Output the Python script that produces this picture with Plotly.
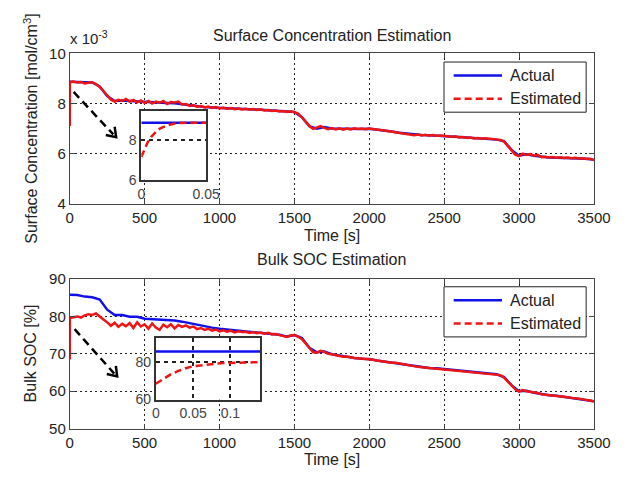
import math
import plotly.graph_objects as go

# ---------------- data ----------------
# time axes [s]
t_actual = list(range(0, 3501, 50))
t_est = [0, 0.5] + list(range(25, 3501, 25))

# surface concentration, units of 1e-3 mol/cm^3
conc_actual = [
    8.87, 8.86, 8.82, 8.84, 8.68, 8.30, 8.10, 8.12, 8.10, 8.08,
    8.05, 8.04, 8.04, 8.02, 8.01, 7.97, 7.92, 7.88, 7.86, 7.84,
    7.82, 7.81, 7.79, 7.78, 7.77, 7.76, 7.74, 7.72, 7.70, 7.67,
    7.66, 7.45, 7.10, 7.00, 7.06, 7.00, 6.99, 6.98, 6.98, 6.98,
    6.99, 6.96, 6.93, 6.88, 6.83, 6.79, 6.76, 6.74, 6.73, 6.72,
    6.70, 6.68, 6.66, 6.64, 6.62, 6.60, 6.58, 6.56, 6.50, 6.15,
    5.92, 5.98, 5.92, 5.87, 5.85, 5.84, 5.83, 5.82, 5.81, 5.80,
    5.76,
]
conc_est = [7.10, 8.85,
    8.88, 8.84, 8.86, 8.80, 8.83, 8.85, 8.78, 8.66, 8.50, 8.32,
    8.15, 8.08, 8.15, 8.10, 8.18, 8.08, 8.14, 8.05, 8.12, 8.02,
    8.10, 8.00, 8.08, 8.03, 8.10, 7.98, 8.06, 8.04, 8.08, 7.96,
    7.98, 7.90, 7.94, 7.87, 7.90, 7.84, 7.88, 7.82, 7.86, 7.80,
    7.83, 7.79, 7.82, 7.77, 7.80, 7.76, 7.79, 7.75, 7.78, 7.74,
    7.77, 7.72, 7.74, 7.70, 7.72, 7.68, 7.70, 7.66, 7.69, 7.65,
    7.60, 7.45, 7.28, 7.10, 6.99, 7.04, 7.10, 7.03, 6.98, 7.02,
    6.97, 7.01, 6.96, 7.00, 6.97, 7.01, 6.98, 7.00, 6.97, 7.00,
    6.97, 6.96, 6.94, 6.92, 6.90, 6.87, 6.85, 6.83, 6.80, 6.78,
    6.77, 6.74, 6.76, 6.73, 6.75, 6.72, 6.74, 6.71, 6.72, 6.70,
    6.71, 6.67, 6.69, 6.65, 6.66, 6.63, 6.64, 6.61, 6.62, 6.60,
    6.61, 6.59, 6.58, 6.57, 6.55, 6.48, 6.30, 6.14, 5.96, 5.90,
    6.00, 5.95, 5.98, 5.92, 5.95, 5.86, 5.88, 5.85, 5.87, 5.84,
    5.86, 5.83, 5.85, 5.82, 5.84, 5.81, 5.82, 5.79, 5.80, 5.74,
]

# bulk SOC [%]
soc_actual = [
    85.8, 85.7, 85.3, 85.1, 84.5, 81.8, 80.4, 80.4, 79.9, 79.9,
    79.4, 79.3, 79.2, 79.1, 78.9, 78.6, 78.2, 77.7, 77.3, 77.0,
    76.7, 76.5, 76.2, 76.0, 75.9, 75.8, 75.6, 75.3, 75.1, 74.6,
    75.0, 74.2, 71.6, 70.4, 70.6, 69.9, 69.5, 69.2, 68.9, 68.7,
    68.6, 68.2, 67.9, 67.7, 67.5, 67.0, 66.7, 66.4, 66.2, 66.1,
    65.9, 65.7, 65.5, 65.3, 65.1, 64.8, 64.6, 64.5, 63.8, 61.6,
    60.0, 60.1, 59.6, 59.2, 58.9, 58.8, 58.5, 58.3, 58.1, 57.7,
    57.3,
]
soc_est = [68.5, 79.6,
    79.8, 80.0, 79.7, 80.3, 80.6, 80.4, 80.8, 79.9, 79.2, 78.4,
    77.5, 78.3, 77.2, 78.0, 77.4, 78.2, 76.9, 78.4, 77.3, 77.9,
    76.7, 78.1, 77.0, 76.4, 77.8, 77.1, 77.9, 76.8, 77.7, 77.2,
    77.6, 77.0, 77.3, 76.6, 76.9, 76.4, 76.7, 76.2, 76.5, 76.0,
    76.3, 75.9, 76.2, 75.7, 76.0, 75.8, 75.9, 75.6, 75.8, 75.5,
    75.7, 75.4, 75.6, 75.2, 75.3, 75.0, 74.8, 74.5, 74.9, 75.0,
    74.6, 73.9, 72.8, 71.6, 70.4, 70.3, 70.8, 70.5, 70.0, 69.9,
    69.6, 69.5, 69.2, 69.3, 69.0, 68.9, 68.8, 68.7, 68.7, 68.5,
    68.4, 68.2, 68.0, 67.9, 67.8, 67.6, 67.6, 67.4, 67.2, 67.0,
    66.8, 66.7, 66.5, 66.4, 66.3, 66.2, 66.2, 66.0, 66.0, 65.9,
    65.8, 65.7, 65.6, 65.5, 65.4, 65.3, 65.2, 65.0, 64.9, 64.8,
    64.7, 64.6, 64.6, 64.4, 64.3, 63.6, 62.6, 61.5, 60.5, 59.9,
    60.3, 60.0, 59.9, 59.6, 59.5, 59.2, 59.1, 58.9, 58.9, 58.7,
    58.6, 58.5, 58.4, 58.2, 58.2, 58.0, 57.8, 57.7, 57.5, 57.2,
]

# zoomed insets (first instants)
inset_conc_t = [0, 0.0025, 0.005, 0.0075, 0.01, 0.0125, 0.015, 0.0175, 0.02, 0.025, 0.03, 0.04, 0.05]
inset_conc_est = [7.15, 7.55, 7.90, 8.15, 8.35, 8.50, 8.60, 8.68, 8.74, 8.82, 8.86, 8.87, 8.87]
inset_conc_act_t = [0, 0.05]
inset_conc_act = [8.87, 8.87]

inset_soc_t = [0, 0.01, 0.02, 0.03, 0.04, 0.05, 0.06, 0.07, 0.08, 0.09, 0.10, 0.11, 0.12, 0.13, 0.14]
inset_soc_est = [68.5, 71.0, 73.5, 75.3, 76.8, 77.8, 78.4, 78.9, 79.2, 79.5, 79.7, 79.8, 79.8, 79.9, 79.9]
inset_soc_act_t = [0, 0.14]
inset_soc_act = [85.7, 85.7]

x_ticks_main = list(range(0, 3501, 500))
conc_ticks = [4, 6, 8, 10]
soc_ticks = [50, 60, 70, 80, 90]
series_names = ["Actual", "Estimated"]

assert len(t_est) == len(conc_est) == len(soc_est)
assert len(t_actual) == len(conc_actual) == len(soc_actual)

# ---------------- layout helpers ----------------
W, H = 637, 478
def px(x):
    return x / W
def py(y):
    return 1 - y / H

FONT = "Liberation Sans, Arial, sans-serif"
BLUE = "#1010e8"
RED = "#ee1515"
TXT = "#222222"
DASH_RED = "7px,4px"

fig = go.Figure()

# main traces
fig.add_trace(go.Scatter(x=t_actual, y=conc_actual, mode="lines", name=series_names[0],
                         line=dict(color=BLUE, width=2.5), xaxis="x", yaxis="y"))
fig.add_trace(go.Scatter(x=t_est, y=conc_est, mode="lines", name=series_names[1],
                         line=dict(color=RED, width=2.5), xaxis="x", yaxis="y"))
fig.add_trace(go.Scatter(x=t_actual, y=soc_actual, mode="lines", name=series_names[0],
                         line=dict(color=BLUE, width=2.5), xaxis="x2", yaxis="y2"))
fig.add_trace(go.Scatter(x=t_est, y=soc_est, mode="lines", name=series_names[1],
                         line=dict(color=RED, width=2.5), xaxis="x2", yaxis="y2"))

# inset traces
fig.add_trace(go.Scatter(x=inset_conc_act_t, y=inset_conc_act, mode="lines", name=series_names[0],
                         line=dict(color=BLUE, width=2.5), xaxis="x5", yaxis="y5"))
fig.add_trace(go.Scatter(x=inset_conc_t, y=inset_conc_est, mode="lines", name=series_names[1],
                         line=dict(color=RED, width=2.5, dash=DASH_RED), xaxis="x5", yaxis="y5"))
fig.add_trace(go.Scatter(x=inset_soc_act_t, y=inset_soc_act, mode="lines", name=series_names[0],
                         line=dict(color=BLUE, width=2.5), xaxis="x6", yaxis="y6"))
fig.add_trace(go.Scatter(x=inset_soc_t, y=inset_soc_est, mode="lines", name=series_names[1],
                         line=dict(color=RED, width=2.5, dash=DASH_RED), xaxis="x6", yaxis="y6"))

main_ax = dict(showline=True, mirror="allticks", linecolor="#444", linewidth=1,
               ticks="inside", ticklen=5, tickcolor="#444",
               showgrid=True, gridcolor="#222", griddash="2px,3px", gridwidth=1,
               zeroline=False, tickfont=dict(size=15, color=TXT, family=FONT))
cover_ax = dict(showline=True, mirror=True, linecolor="#000", linewidth=2, showticklabels=False,
                ticks="", showgrid=False, zeroline=False, range=[0, 1], fixedrange=True)
inset_ax = dict(showline=True, mirror=True, linecolor="#333", linewidth=2, ticks="",
                showgrid=True, gridcolor="#222", griddash="4px,4px", gridwidth=1.5,
                zeroline=False, tickfont=dict(size=14, color="#444", family=FONT))

fig.update_layout(
    width=W, height=H, margin=dict(l=0, r=0, t=0, b=0),
    paper_bgcolor="white", plot_bgcolor="white", showlegend=False,
    font=dict(family=FONT, color=TXT),
    xaxis=dict(main_ax, domain=[px(68), px(610)], range=[0, 3500], tickvals=x_ticks_main, anchor="y"),
    yaxis=dict(main_ax, domain=[py(202), py(46)], range=[4, 10], tickvals=conc_ticks, anchor="x"),
    xaxis2=dict(main_ax, domain=[px(68), px(610)], range=[0, 3500], tickvals=x_ticks_main, anchor="y2"),
    yaxis2=dict(main_ax, domain=[py(435), py(280)], range=[50, 90], tickvals=soc_ticks, anchor="x2"),
    xaxis3=dict(cover_ax, domain=[px(122), px(224)], anchor="y3"),
    yaxis3=dict(cover_ax, domain=[py(198), py(106)], anchor="x3"),
    xaxis4=dict(cover_ax, domain=[px(124), px(265)], anchor="y4"),
    yaxis4=dict(cover_ax, domain=[py(432), py(341)], anchor="x4"),
    xaxis5=dict(inset_ax, domain=[px(142), px(209)], range=[0, 0.05], tickvals=[0, 0.05],
                ticktext=["0", "0.05"], showgrid=False, anchor="y5"),
    yaxis5=dict(inset_ax, domain=[py(177), py(106)], range=[6, 9.45], tickvals=[6, 8], anchor="x5"),
    xaxis6=dict(inset_ax, domain=[px(157), px(265)], range=[0, 0.14], tickvals=[0, 0.05, 0.1],
                ticktext=["0", "0.05", "0.1"], anchor="y6"),
    yaxis6=dict(inset_ax, domain=[py(405), py(341)], range=[60, 93], tickvals=[60, 80], anchor="x6"),
)

def ann(text, x, y, size=16, angle=0, xanchor="center"):
    fig.add_annotation(text=text, x=px(x), y=py(y), xref="paper", yref="paper", showarrow=False,
                       xanchor=xanchor, yanchor="middle", textangle=angle,
                       font=dict(size=size, color=TXT, family=FONT))

ann("Surface Concentration Estimation", 339, 27)
ann("Bulk SOC Estimation", 339, 260)
ann("Time [s]", 339, 235)
ann("Time [s]", 339, 467)
ann("Surface Concentration [mol/cm<sup>3</sup>]", 27, 124, angle=-90)
ann("Bulk SOC [%]", 27, 357, angle=-90)
ann("x 10<sup>-3</sup>", 66, 30, size=15, xanchor="left")

# legend boxes (drawn like MATLAB's)
def legend_box(top):
    fig.add_shape(type="rect", xref="paper", yref="paper", x0=px(455), x1=px(602), y0=py(top + 52), y1=py(top),
                  line=dict(color="#222", width=1), fillcolor="white", layer="above")
    rows = [(series_names[0], BLUE, "solid", top + 14), (series_names[1], RED, DASH_RED, top + 38)]
    for name, col, dash, yy in rows:
        fig.add_shape(type="line", xref="paper", yref="paper", x0=px(465), x1=px(515), y0=py(yy), y1=py(yy),
                      line=dict(color=col, width=2.5, dash=dash), layer="above")
        ann(name, 521, yy, size=16, xanchor="left")

legend_box(55)
legend_box(288)

# dashed pointer arrows
def arrow(x0, y0, x1, y1):
    fig.add_shape(type="line", xref="paper", yref="paper", x0=px(x0), y0=py(y0), x1=px(x1 - 3), y1=py(y1 - 3),
                  line=dict(color="black", width=2.5, dash="8px,5px"), layer="above")
    dx, dy = x1 - x0, y1 - y0
    n = math.hypot(dx, dy)
    bx, by = -dx / n, -dy / n
    a = math.radians(35)
    L = 11
    ax1 = (x1 + L * (bx * math.cos(a) - by * math.sin(a)), y1 + L * (bx * math.sin(a) + by * math.cos(a)))
    ax2 = (x1 + L * (bx * math.cos(a) + by * math.sin(a)), y1 + L * (-bx * math.sin(a) + by * math.cos(a)))
    path = "M {:.5f},{:.5f} L {:.5f},{:.5f} L {:.5f},{:.5f}".format(
        px(ax1[0]), py(ax1[1]), px(x1), py(y1), px(ax2[0]), py(ax2[1]))
    fig.add_shape(type="path", xref="paper", yref="paper", path=path,
                  line=dict(color="black", width=2.5), layer="above")

arrow(72, 86, 116, 133)
arrow(73, 332, 117, 381)

fig.write_html("out.html", config={"responsive": False},
               post_script="document.body.style.margin='0';document.body.style.padding='0';"
                           "document.documentElement.style.overflow='hidden';")
